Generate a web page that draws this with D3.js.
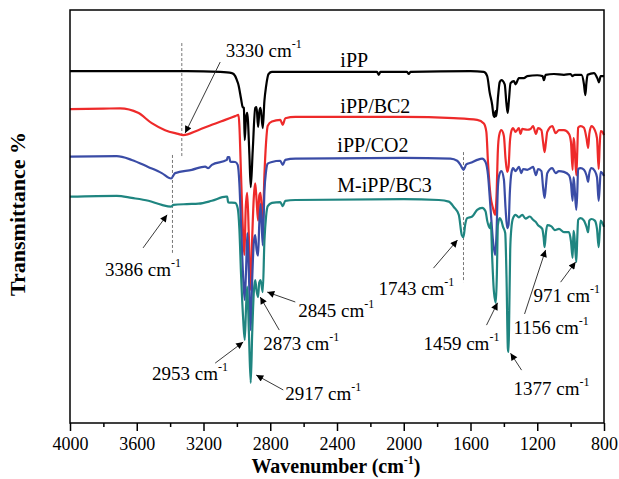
<!DOCTYPE html>
<html>
<head>
<meta charset="utf-8">
<script src="https://cdn.jsdelivr.net/npm/d3@7"></script>
<style>
  body { margin: 0; background: #fff; }
  text { font-family: "Liberation Serif", "Times New Roman", serif; }
</style>
</head>
<body>
<div class="chart"></div>
<script>
// wavenumber (cm-1) and transmittance (a.u.)
const majorTicks = [4000, 3600, 3200, 2800, 2400, 2000, 1600, 1200, 800];
const minorTicks = [3800, 3400, 3000, 2600, 2200, 1800, 1400, 1000];

const ipp = [
  [4000, 85.2], [3600, 85.2], [3300, 85.2], [3100, 85.0], [3030, 84.7], [3010, 84.0], [3000, 83.0],
  [2990, 81.8], [2975, 78.5], [2965, 76.5], [2958, 76.3], [2953, 68.5], [2945, 74.0], [2938, 75.1],
  [2925, 65.0], [2917, 57.1], [2905, 66.0], [2890, 76.3], [2882, 76.5], [2873, 71.7], [2865, 75.5],
  [2858, 76.3], [2845, 71.4], [2835, 78.0], [2825, 81.5], [2810, 84.5], [2790, 85.0], [2500, 85.0],
  [2160, 85.0], [2150, 84.3], [2140, 85.0], [1980, 85.0], [1970, 84.5], [1960, 85.0], [1600, 85.2],
  [1520, 85.0], [1500, 84.0], [1485, 80.0], [1470, 77.0], [1462, 74.5], [1456, 74.1], [1450, 75.5],
  [1445, 74.3], [1435, 79.0], [1425, 82.5], [1415, 83.0], [1395, 82.0], [1385, 77.5], [1377, 75.1],
  [1370, 78.0], [1360, 82.3], [1340, 82.8], [1330, 82.0], [1310, 83.5], [1280, 83.5], [1260, 84.0],
  [1200, 84.2], [1168, 84.0], [1160, 83.0], [1150, 84.3], [1100, 84.5], [1040, 84.3], [1000, 84.5],
  [990, 84.0], [975, 84.3], [935, 84.3], [920, 82.0], [912, 79.4], [905, 82.5], [898, 84.3],
  [860, 84.7], [840, 83.5], [830, 82.5], [820, 84.0], [800, 84.0]
];

const ippBC2 = [
  [4000, 76.0], [3800, 76.1], [3700, 76.2], [3592, 75.1], [3510, 72.6], [3430, 70.9], [3352, 70.0],
  [3322, 69.7], [3232, 70.9], [3150, 72.2], [3070, 73.4], [3010, 74.3], [2990, 74.6], [2985, 72.0],
  [2975, 60.0], [2962, 45.0], [2955, 40.7], [2947, 52.0], [2938, 55.7], [2928, 45.0], [2917, 32.2],
  [2908, 45.0], [2898, 55.0], [2890, 58.0], [2882, 54.0], [2873, 49.0], [2866, 55.0], [2858, 55.7],
  [2845, 48.0], [2835, 60.0], [2825, 68.0], [2815, 72.0], [2790, 73.0], [2740, 73.4], [2725, 72.2],
  [2710, 73.8], [2650, 74.1], [2000, 74.1], [1700, 73.8], [1560, 73.4], [1520, 72.5], [1505, 70.5],
  [1495, 63.0], [1480, 55.0], [1465, 52.0], [1452, 50.4], [1444, 55.0], [1436, 66.0], [1428, 69.7],
  [1415, 70.9], [1400, 69.5], [1390, 64.0], [1380, 60.8], [1372, 62.0], [1364, 68.0], [1355, 70.7],
  [1345, 71.4], [1330, 70.5], [1310, 71.4], [1300, 70.0], [1290, 71.2], [1260, 71.0], [1240, 71.2],
  [1225, 71.9], [1208, 70.0], [1195, 71.4], [1175, 70.9], [1165, 68.0], [1156, 65.6], [1148, 68.0],
  [1140, 70.5], [1110, 71.9], [1090, 70.2], [1070, 70.9], [1040, 70.9], [1010, 70.0], [998, 68.0],
  [988, 61.3], [983, 69.0], [978, 68.0], [966, 60.0], [960, 66.0], [955, 71.5], [940, 71.9],
  [920, 71.5], [905, 69.0], [895, 66.6], [888, 70.0], [875, 71.9], [855, 70.9], [842, 69.0],
  [832, 61.5], [826, 67.0], [820, 70.7], [810, 70.5], [800, 69.7]
];

const ippCO2 = [
  [4000, 64.5], [3720, 64.6], [3630, 63.7], [3532, 62.0], [3450, 60.5], [3394, 59.2], [3370, 60.5],
  [3270, 61.3], [3190, 62.1], [3172, 61.7], [3150, 62.5], [3060, 63.7], [3055, 64.4], [3045, 64.4],
  [3040, 63.3], [3010, 63.2], [2995, 62.5], [2985, 58.0], [2975, 48.0], [2962, 35.0], [2953, 29.8],
  [2945, 37.0], [2937, 46.0], [2928, 36.0], [2917, 22.5], [2908, 35.0], [2898, 44.0], [2890, 45.5],
  [2882, 42.0], [2873, 40.5], [2866, 48.0], [2858, 53.0], [2845, 43.0], [2835, 56.0], [2825, 61.0],
  [2815, 62.8], [2790, 63.2], [2740, 63.5], [2725, 62.5], [2710, 63.7], [2650, 64.0], [2000, 64.2],
  [1720, 64.0], [1680, 63.5], [1660, 62.5], [1642, 61.3], [1625, 62.6], [1600, 63.0], [1560, 63.7],
  [1530, 64.0], [1510, 63.2], [1495, 60.0], [1480, 52.0], [1465, 44.0], [1452, 40.7], [1444, 46.0],
  [1436, 57.0], [1428, 60.0], [1415, 61.0], [1400, 59.0], [1390, 52.0], [1380, 47.2], [1372, 48.0],
  [1364, 56.0], [1355, 60.5], [1345, 61.7], [1330, 61.0], [1310, 62.0], [1295, 60.5], [1285, 61.5],
  [1260, 61.3], [1240, 61.7], [1225, 62.0], [1208, 60.0], [1195, 61.5], [1175, 61.0], [1165, 57.0],
  [1156, 54.5], [1148, 57.5], [1140, 60.5], [1110, 61.7], [1090, 60.5], [1070, 61.0], [1040, 60.8],
  [1010, 60.0], [998, 58.0], [988, 53.8], [983, 59.5], [978, 58.0], [966, 51.6], [960, 56.0],
  [955, 61.5], [940, 61.7], [920, 61.3], [905, 60.0], [895, 58.4], [888, 60.5], [875, 61.7],
  [855, 61.0], [842, 59.5], [832, 53.8], [826, 57.0], [820, 60.8], [810, 60.5], [800, 59.8]
];

const mippBC3 = [
  [4000, 54.8], [3720, 55.0], [3630, 54.5], [3530, 53.8], [3450, 52.8], [3394, 52.4], [3380, 52.8],
  [3300, 53.0], [3230, 53.1], [3150, 53.8], [3065, 54.8], [3058, 54.8], [3052, 53.4], [3010, 53.3],
  [2995, 52.0], [2985, 47.0], [2975, 36.0], [2962, 25.0], [2953, 20.1], [2945, 28.0], [2938, 33.0],
  [2928, 22.0], [2917, 9.7], [2908, 22.0], [2898, 32.0], [2890, 34.6], [2882, 32.0], [2873, 30.5],
  [2866, 34.0], [2858, 34.6], [2845, 31.7], [2835, 44.0], [2825, 50.0], [2815, 52.5], [2790, 53.3],
  [2740, 53.5], [2725, 52.5], [2710, 53.8], [2650, 54.0], [2000, 54.2], [1790, 54.0], [1730, 53.6],
  [1700, 52.3], [1670, 50.4], [1652, 45.5], [1642, 45.0], [1632, 48.0], [1620, 49.6], [1590, 50.0],
  [1560, 51.6], [1530, 52.1], [1510, 51.3], [1500, 49.0], [1485, 47.2], [1478, 48.5], [1470, 40.0],
  [1460, 32.0], [1448, 29.1], [1442, 36.0], [1436, 47.9], [1425, 49.6], [1415, 49.0], [1405, 47.5],
  [1392, 46.0], [1384, 35.0], [1376, 18.0], [1372, 17.2], [1368, 26.0], [1362, 42.0], [1355, 47.2],
  [1345, 49.6], [1330, 50.4], [1310, 49.8], [1290, 50.4], [1270, 49.5], [1245, 50.0], [1225, 49.2],
  [1210, 48.7], [1195, 47.9], [1170, 47.0], [1162, 45.0], [1156, 42.6], [1148, 46.0], [1140, 47.9],
  [1115, 47.6], [1095, 46.7], [1070, 47.0], [1040, 46.2], [1010, 46.2], [998, 44.0], [988, 40.0],
  [983, 46.5], [978, 45.5], [966, 39.0], [960, 45.0], [955, 49.2], [940, 49.6], [920, 49.0],
  [905, 47.5], [895, 46.2], [888, 49.0], [875, 49.4], [855, 49.0], [842, 47.0], [832, 42.6],
  [826, 46.0], [820, 49.0], [810, 48.5], [800, 47.5]
];

const seriesNames = ["iPP", "iPP/BC2", "iPP/CO2", "M-iPP/BC3"];
const seriesColors = ["#000000", "#ee2a2a", "#3a4ca6", "#1f8580"];
const seriesData = [ipp, ippBC2, ippCO2, mippBC3];
// label position: [wavenumber of left edge, transmittance of baseline]
const seriesLabelPos = [[2380, 86.3], [2380, 75.1], [2398, 65.6], [2398, 55.9]];

// peak annotations: label text, label position, arrow start and tip
const peakLabels = ["3330", "3386", "2953", "2917", "2873", "2845", "1743", "1459", "1377", "1156", "971"];
const peakTextPos = [[3066, 88.6], [3790, 35.6], [3508, 10.4], [2710, 5.6], [2842, 17.7], [2632, 25.7],
  [2152, 31.0], [1882, 17.7], [1342, 6.8], [1342, 21.5], [1222, 29.3]];
const arrowFrom = [[3100, 87.4], [3562, 42.4], [3130, 14.5], [2722, 8.0], [2746, 22.5], [2650, 29.3],
  [1822, 37.5], [1504, 23.7], [1294, 12.8], [1276, 26.4], [1060, 34.1]];
const arrowTo = [[3310, 70.2], [3418, 50.4], [2962, 19.6], [2884, 11.6], [2860, 30.5], [2818, 31.7],
  [1678, 44.3], [1438, 29.1], [1360, 16.9], [1150, 41.9], [970, 39.0]];

// dashed guides: wavenumber, top, bottom
const guideLines = [[3330, 92.0, 64.2], [3386, 64.9, 41.2], [1642, 65.6, 34.1]];

const W = 619, H = 479;
const svg = d3.select(".chart").append("svg")
  .attr("width", W).attr("height", H);

const x = d3.scaleLinear().domain([4000, 800]).range([70, 604]);
const y = d3.scaleLinear().domain([0, 100]).range([423, 10]);

svg.append("defs").append("marker")
  .attr("id", "head")
  .attr("viewBox", "0 0 10 10")
  .attr("refX", 10).attr("refY", 5)
  .attr("markerWidth", 11).attr("markerHeight", 7)
  .attr("markerUnits", "userSpaceOnUse")
  .attr("orient", "auto")
  .append("path").attr("d", "M0,0 L10,5 L0,10 Z").attr("fill", "#000");

// dashed guides
svg.selectAll(null).data(guideLines).enter().append("line")
  .attr("x1", d => x(d[0])).attr("x2", d => x(d[0]))
  .attr("y1", d => y(d[1])).attr("y2", d => y(d[2]))
  .attr("stroke", "#777").attr("stroke-width", 1)
  .attr("stroke-dasharray", "3,2");

const line = d3.line().x(d => x(d[0])).y(d => y(d[1])).curve(d3.curveMonotoneX);

svg.selectAll(null).data(seriesData).enter().append("path")
  .attr("d", line)
  .attr("fill", "none")
  .attr("stroke", (d, i) => seriesColors[i])
  .attr("stroke-width", 2.2)
  .attr("stroke-linejoin", "round");

// series labels
svg.selectAll(null).data(seriesNames).enter().append("text")
  .attr("x", (d, i) => x(seriesLabelPos[i][0]))
  .attr("y", (d, i) => y(seriesLabelPos[i][1]))
  .attr("font-size", "20px")
  .text(d => d);

// arrows
svg.selectAll(null).data(peakLabels).enter().append("line")
  .attr("x1", (d, i) => x(arrowFrom[i][0])).attr("y1", (d, i) => y(arrowFrom[i][1]))
  .attr("x2", (d, i) => x(arrowTo[i][0])).attr("y2", (d, i) => y(arrowTo[i][1]))
  .attr("stroke", "#222").attr("stroke-width", 0.9)
  .attr("marker-end", "url(#head)");

// peak labels with cm-1 superscript
const pl = svg.selectAll(null).data(peakLabels).enter().append("text")
  .attr("x", (d, i) => x(peakTextPos[i][0]))
  .attr("y", (d, i) => y(peakTextPos[i][1]))
  .attr("font-size", "19px");
pl.append("tspan").text(d => d + " cm");
pl.append("tspan").attr("dy", -9).attr("font-size", "12px").text("-1");

// frame
svg.append("rect")
  .attr("x", 70).attr("y", 10)
  .attr("width", 534).attr("height", 413)
  .attr("fill", "none").attr("stroke", "#000").attr("stroke-width", 1.5);

// bottom axis
const gx = svg.append("g").attr("transform", "translate(0,423)");
gx.call(d3.axisBottom(x).tickValues(majorTicks).tickSize(8).tickPadding(6).tickFormat(d3.format("d")));
gx.select(".domain").remove();
gx.selectAll(".tick line").attr("stroke-width", 1.5);
gx.selectAll("text").attr("font-size", "18px").attr("font-family", "Liberation Serif").attr("fill", "#000");

const gm = svg.append("g").attr("transform", "translate(0,423)");
gm.call(d3.axisBottom(x).tickValues(minorTicks).tickSize(4).tickFormat(""));
gm.select(".domain").remove();
gm.selectAll(".tick line").attr("stroke-width", 1.5);

// axis titles
const xt = svg.append("text")
  .attr("x", 336).attr("y", 473)
  .attr("text-anchor", "middle")
  .attr("font-size", "20px").attr("font-weight", "bold");
xt.append("tspan").text("Wavenumber (cm");
xt.append("tspan").attr("dy", -9).attr("font-size", "12px").text("-1");
xt.append("tspan").attr("dy", 9).text(")");

svg.append("text")
  .attr("transform", "translate(25,214) rotate(-90)")
  .attr("text-anchor", "middle")
  .attr("font-size", "22px").attr("font-weight", "bold")
  .text("Transmittance %");
</script>
</body>
</html>
